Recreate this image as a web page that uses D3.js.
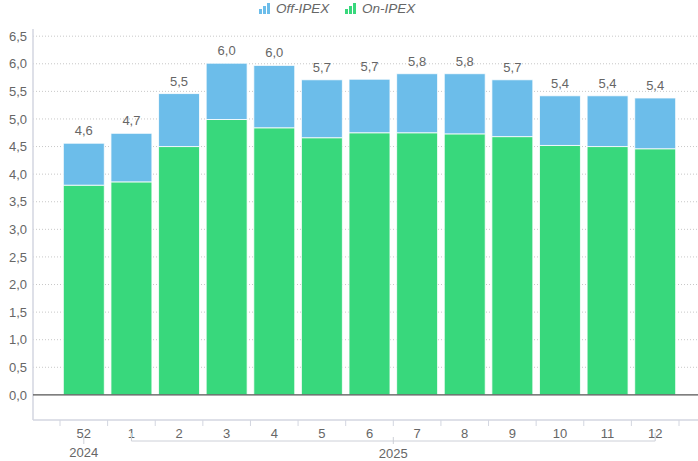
<!DOCTYPE html>
<html>
<head>
  <style>
    body { margin: 0; background: #fff; }
    svg { font-family: "Liberation Sans", Arial, sans-serif; }
    .grid line { stroke: #c8c8c8; stroke-dasharray: 1,2; }
    .lbl { fill: #666; font-size: 13px; }
  </style>
</head>
<body>
  <svg width="698" height="461"></svg>
  <script src="https://d3js.org/d3.v7.min.js"></script>
  <script>
    // weekly values
    const weeks = ["52", "1", "2", "3", "4", "5", "6", "7", "8", "9", "10", "11", "12"];
    const years = ["2024", "2025", "2025", "2025", "2025", "2025", "2025", "2025", "2025", "2025", "2025", "2025", "2025"];
    const onIpex = [3.80, 3.86, 4.50, 4.99, 4.84, 4.66, 4.75, 4.75, 4.73, 4.68, 4.52, 4.50, 4.46];
    const offIpex = [0.76, 0.88, 0.96, 1.02, 1.13, 1.05, 0.97, 1.07, 1.09, 1.03, 0.90, 0.92, 0.92];
    const totalLabels = ["4,6", "4,7", "5,5", "6,0", "6,0", "5,7", "5,7", "5,8", "5,8", "5,7", "5,4", "5,4", "5,4"];
    const yTicks = [0, 0.5, 1, 1.5, 2, 2.5, 3, 3.5, 4, 4.5, 5, 5.5, 6, 6.5];
    const seriesNames = ["Off-IPEX", "On-IPEX"];
    const colors = { "Off-IPEX": "#6cbdea", "On-IPEX": "#38d87c" };

    const svg = d3.select("svg");
    const plotLeft = 33, plotRight = 698, plotTop = 29, plotBottom = 420;

    const x = d3.scaleBand().domain(weeks).range([60, 679])
      .paddingInner(0.14).paddingOuter(0.07);
    const y = d3.scaleLinear().domain([-0.455, 6.63]).range([plotBottom, plotTop]);

    // gridlines
    svg.append("g").attr("class", "grid")
      .selectAll("line").data(yTicks.filter(d => d > 0)).join("line")
      .attr("x1", plotLeft).attr("x2", plotRight)
      .attr("y1", d => y(d)).attr("y2", d => y(d));

    // y axis
    const yAxis = svg.append("g")
      .attr("transform", "translate(" + plotLeft + ",0)")
      .call(d3.axisLeft(y).tickValues(yTicks).tickSize(0).tickPadding(6)
        .tickFormat(d => d3.format(".1f")(d).replace(".", ",")));
    yAxis.select(".domain").remove();
    yAxis.selectAll("text").attr("class", "lbl").attr("fill", null)
      .style("font-size", "13px").style("font-family", "'Liberation Sans', Arial, sans-serif");
    svg.append("line").attr("x1", plotLeft).attr("x2", plotLeft).attr("y1", plotTop).attr("y2", plotBottom)
      .attr("stroke", "#d3d6e0").attr("stroke-width", 1.5);

    // stacked bars
    const rows = weeks.map((w, i) => ({ week: w, "On-IPEX": onIpex[i], "Off-IPEX": offIpex[i] }));
    const stack = d3.stack().keys(["On-IPEX", "Off-IPEX"])(rows);
    svg.append("g").selectAll("g").data(stack).join("g")
      .attr("fill", d => colors[d.key])
      .selectAll("rect").data(d => d).join("rect")
      .attr("x", d => x(d.data.week))
      .attr("width", x.bandwidth())
      .attr("y", d => y(d[1]))
      .attr("height", d => y(d[0]) - y(d[1]))
      .attr("stroke", "#fff").attr("stroke-opacity", 0.8).attr("stroke-width", 1);

    // total labels
    svg.append("g").selectAll("text").data(weeks).join("text")
      .attr("class", "lbl").attr("text-anchor", "middle")
      .attr("x", d => x(d) + x.bandwidth() / 2)
      .attr("y", (d, i) => y(onIpex[i] + offIpex[i]) - 8)
      .text((d, i) => totalLabels[i]);

    // zero line
    svg.append("line").attr("x1", plotLeft).attr("x2", plotRight).attr("y1", y(0)).attr("y2", y(0))
      .attr("stroke", "#555").attr("stroke-width", 1.2);

    // x axis
    svg.append("line").attr("x1", plotLeft).attr("x2", plotRight).attr("y1", plotBottom).attr("y2", plotBottom)
      .attr("stroke", "#d3d6e0").attr("stroke-width", 1.5);
    const bounds = weeks.map(w => x(w) - x.step() * 0.07).concat([x("12") + x.bandwidth() + x.step() * 0.07]);
    svg.append("g").selectAll("line").data(bounds).join("line")
      .attr("x1", d => d).attr("x2", d => d).attr("y1", plotBottom).attr("y2", plotBottom + 6)
      .attr("stroke", "#d3d6e0");
    svg.append("g").selectAll("text").data(weeks).join("text")
      .attr("class", "lbl").attr("text-anchor", "middle")
      .attr("x", d => x(d) + x.bandwidth() / 2).attr("y", 438)
      .text(d => d);

    // year groups
    const yearNames = Array.from(new Set(years));
    yearNames.forEach(yr => {
      const ws = weeks.filter((w, i) => years[i] === yr);
      const x0 = x(ws[0]) + x.bandwidth() / 2;
      const x1 = x(ws[ws.length - 1]) + x.bandwidth() / 2;
      const g = svg.append("g").attr("stroke", "#cdd0d8").attr("fill", "none");
      if (ws.length === 1) {
        g.append("line").attr("x1", x0).attr("x2", x0).attr("y1", 437).attr("y2", 444);
      } else {
        g.append("path").attr("d", "M" + x0 + ",433V441H" + x1 + "V433");
        g.append("line").attr("x1", (x0 + x1) / 2).attr("x2", (x0 + x1) / 2).attr("y1", 437).attr("y2", 444);
      }
      svg.append("text").attr("class", "lbl").attr("text-anchor", "middle")
        .attr("x", (x0 + x1) / 2).attr("y", ws.length === 1 ? 457 : 458)
        .text(yr);
    });

    // legend
    const legX = [259, 345];
    seriesNames.forEach((s, i) => {
      const g = svg.append("g").attr("transform", "translate(" + legX[i] + ",1)");
      [[0, 6], [4, 3], [8, 0]].forEach(b => {
        g.append("rect").attr("x", b[0]).attr("y", b[1] + 2).attr("width", 3).attr("height", 11 - b[1])
          .attr("fill", colors[s]);
      });
      g.append("text").attr("x", 17).attr("y", 12)
        .attr("fill", "#666").style("font-size", "13.5px").style("font-style", "italic")
        .text(s);
    });
  </script>
</body>
</html>
